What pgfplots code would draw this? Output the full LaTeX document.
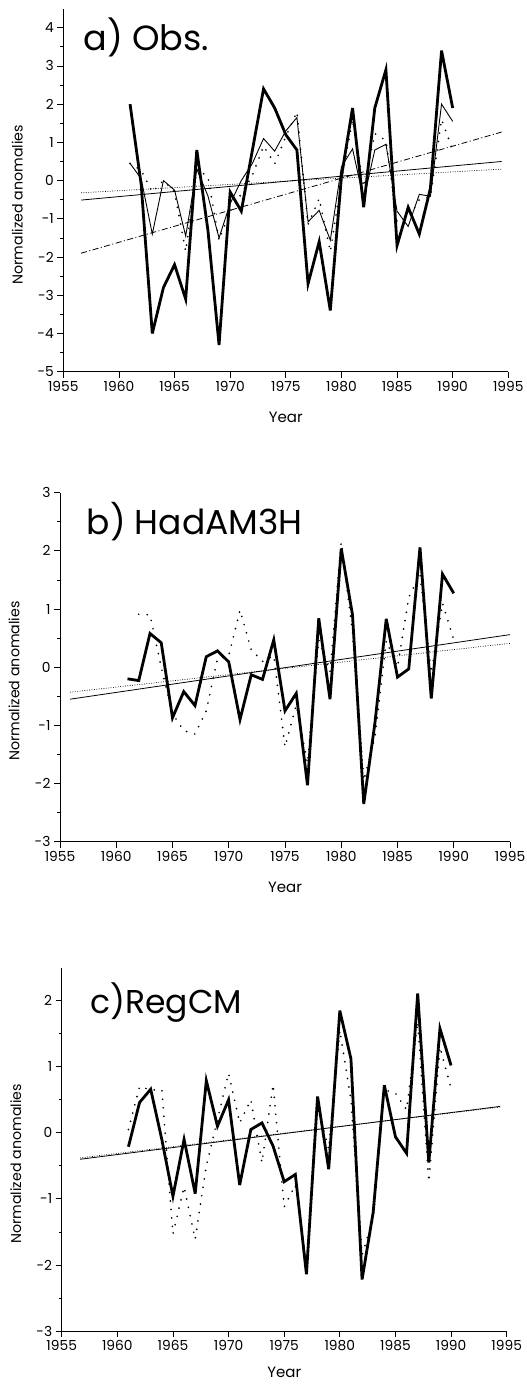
\documentclass[border=0pt]{standalone}
\usepackage{fontspec}
\setmainfont{Poppins}
\usepackage{pgfplots}
\pgfplotsset{compat=1.18}

\pgfplotstableread{
year v
1961 2.0
1962 -0.1
1963 -4.0
1964 -2.8
1965 -2.2
1966 -3.1
1967 0.8
1968 -1.3
1969 -4.3
1970 -0.3
1971 -0.8
1972 0.8
1973 2.4
1974 1.9
1975 1.2
1976 0.8
1977 -2.7
1978 -1.6
1979 -3.4
1980 0.1
1981 1.9
1982 -0.7
1983 1.9
1984 2.9
1985 -1.7
1986 -0.7
1987 -1.4
1988 -0.2
1989 3.4
1990 1.9
}\aThick
\pgfplotstableread{
year v
1961 0.45
1962 0.05
1963 -1.4
1964 0.0
1965 -0.25
1966 -1.45
1967 0.3
1968 -0.4
1969 -1.5
1970 -0.6
1971 0.0
1972 0.45
1973 1.1
1974 0.77
1975 1.3
1976 1.65
1977 -1.08
1978 -0.78
1979 -1.56
1980 0.36
1981 0.83
1982 -0.5
1983 0.8
1984 0.95
1985 -0.8
1986 -1.2
1987 -0.36
1988 -0.41
1989 2.0
1990 1.55
}\aThin
\pgfplotstableread{
year v
1961 0.45
1962 0.27
1963 -0.3
1964 0.0
1965 -0.3
1966 -1.85
1967 0.3
1968 0.1
1969 -1.56
1970 -0.8
1971 -0.35
1972 0.14
1973 0.9
1974 0.44
1975 1.15
1976 1.8
1977 -1.15
1978 -0.47
1979 -1.86
1980 0.0
1981 1.6
1982 -0.17
1983 1.23
1984 1.05
1985 -1.08
1986 -1.0
1987 -0.5
1988 -0.43
1989 1.6
1990 0.8
}\aDot
\pgfplotstableread{
year v
1961 -0.2
1962 -0.23
1963 0.58
1964 0.42
1965 -0.87
1966 -0.42
1967 -0.66
1968 0.18
1969 0.28
1970 0.09
1971 -0.9
1972 -0.13
1973 -0.21
1974 0.47
1975 -0.75
1976 -0.45
1977 -2.03
1978 0.84
1979 -0.55
1980 2.04
1981 0.9
1982 -2.35
1983 -0.95
1984 0.83
1985 -0.17
1986 -0.03
1987 2.06
1988 -0.54
1989 1.6
1990 1.27
}\bThick
\pgfplotstableread{
year v
1962 0.91
1963 0.9
1964 0.0
1965 -0.8
1966 -1.09
1967 -1.15
1968 -0.75
1969 0.15
1970 0.2
1971 0.98
1972 0.3
1973 0.1
1974 0.2
1975 -1.37
1976 -0.65
1977 -1.65
1978 0.47
1979 -0.08
1980 2.15
1981 0.6
1982 -1.95
1983 -1.2
1984 0.45
1985 0.0
1986 1.2
1987 1.6
1988 -0.1
1989 1.1
1990 0.47
}\bDot
\pgfplotstableread{
year v
1961 -0.21
1962 0.46
1963 0.66
1964 -0.1
1965 -0.96
1966 -0.1
1967 -0.92
1968 0.79
1969 0.1
1970 0.5
1971 -0.79
1972 0.05
1973 0.15
1974 -0.2
1975 -0.74
1976 -0.63
1977 -2.14
1978 0.55
1979 -0.55
1980 1.85
1981 1.12
1982 -2.22
1983 -1.2
1984 0.72
1985 -0.06
1986 -0.31
1987 2.11
1988 -0.45
1989 1.58
1990 1.02
}\cThick
\pgfplotstableread{
year v
1961 0.05
1962 0.7
1963 0.65
1964 0.65
1965 -1.53
1966 -0.82
1967 -1.61
1968 -0.5
1969 0.2
1970 0.9
1971 0.15
1972 0.5
1973 -0.45
1974 0.73
1975 -1.12
1976 -0.79
1977 -2.0
1978 0.4
1979 -0.25
1980 1.55
1981 0.5
1982 -1.85
1983 -1.3
1984 0.65
1985 0.6
1986 0.35
1987 1.68
1988 -0.74
1989 1.3
1990 0.67
}\cDot

\pgfplotsset{
  panel/.style={
    scale only axis, anchor=south west,
    axis x line*=bottom, axis y line*=left,
    every outer x axis line/.append style={-},
    every outer y axis line/.append style={-},
    axis line style={line width=0.8pt, black},
    xmin=1955, xmax=1995, xtick={1955,1960,...,1995},
    ytick distance=1, minor y tick num=1,
    tick align=outside, major tick length=6pt, minor tick length=3pt,
    tick style={line width=0.8pt, black},
    /pgf/number format/assume math mode=true,
    /pgf/number format/1000 sep={},
    ticklabel style={font=\fontsize{13.8}{15}\selectfont},
    xlabel={Year}, ylabel={Normalized anomalies},
    every axis y label/.style={at={(rel axis cs:0,0.46)}, xshift=-46pt, rotate=90, anchor=center, font=\fontsize{14.2}{16}\selectfont},
    every axis x label/.style={at={(rel axis cs:0.5,0)}, yshift=-46pt, anchor=center, font=\fontsize{15}{17}\selectfont},
    clip=false,
  },
  sthick/.style={black, line width=2.8pt, line join=miter, miter limit=6},
  sthin/.style={black, line width=0.9pt, line join=miter},
  sdot/.style={black, line width=1.9pt, line cap=round, dash pattern=on 0pt off 8.5pt},
  trsolid/.style={black, line width=0.8pt},
  trdot/.style={black, line width=0.7pt, dash pattern=on 0.8pt off 1.6pt},
  trdashdot/.style={black, line width=0.8pt, dash pattern=on 6pt off 2.5pt on 1pt off 2.5pt},
}

\begin{document}
\begin{tikzpicture}[x=1pt,y=1pt]
\useasboundingbox (0,0) rectangle (527,1384);

% ---------- a) Obs.
\begin{axis}[panel, at={(63.3pt,1012.3pt)}, width=445pt, height=363.1pt,
  ymin=-5, ymax=4.5, ytick={-5,-4,...,4}]
  \addplot[trdashdot] coordinates {(1956.6,-1.9) (1994.4,1.27)};
  \addplot[trsolid] coordinates {(1956.6,-0.51) (1994.4,0.5)};
  \addplot[trdot] coordinates {(1956.6,-0.32) (1994.4,0.3)};
  \addplot[sdot] table[x=year,y=v] {\aDot};
  \addplot[sthin] table[x=year,y=v] {\aThin};
  \addplot[sthick] table[x=year,y=v] {\aThick};
  \node[anchor=base west, inner sep=0pt, font=\fontsize{35}{38}\selectfont] at (rel axis cs:0.045,0.885) {a) Obs.};
\end{axis}

% ---------- b) HadAM3H
\begin{axis}[panel, at={(60pt,542.3pt)}, width=450pt, height=349pt,
  ymin=-3, ymax=3, ytick={-3,-2,...,3}]
  \addplot[trsolid] coordinates {(1955.9,-0.55) (1995,0.56)};
  \addplot[trdot] coordinates {(1955.9,-0.43) (1995,0.41)};
  \addplot[sdot] table[x=year,y=v] {\bDot};
  \addplot[sthick] table[x=year,y=v] {\bThick};
  \node[anchor=base west, inner sep=0pt, font=\fontsize{34.5}{38}\selectfont] at (rel axis cs:0.059,0.881) {b) HadAM3H};
\end{axis}

% ---------- c) RegCM
\begin{axis}[panel, at={(61.7pt,53pt)}, width=445pt, height=363.3pt,
  ymin=-3, ymax=2.5, ytick={-3,-2,...,2},
  every axis x label/.append style={yshift=5pt}]
  \addplot[trsolid] coordinates {(1956.65,-0.4) (1994.4,0.4)};
  \addplot[trdot] coordinates {(1956.65,-0.38) (1994.4,0.39)};
  \addplot[sdot] table[x=year,y=v] {\cDot};
  \addplot[sthick] table[x=year,y=v] {\cThick};
  \node[anchor=base west, inner sep=0pt, font=\fontsize{33}{36}\selectfont] at (rel axis cs:0.064,0.874) {c)RegCM};
\end{axis}
\end{tikzpicture}
\end{document}
